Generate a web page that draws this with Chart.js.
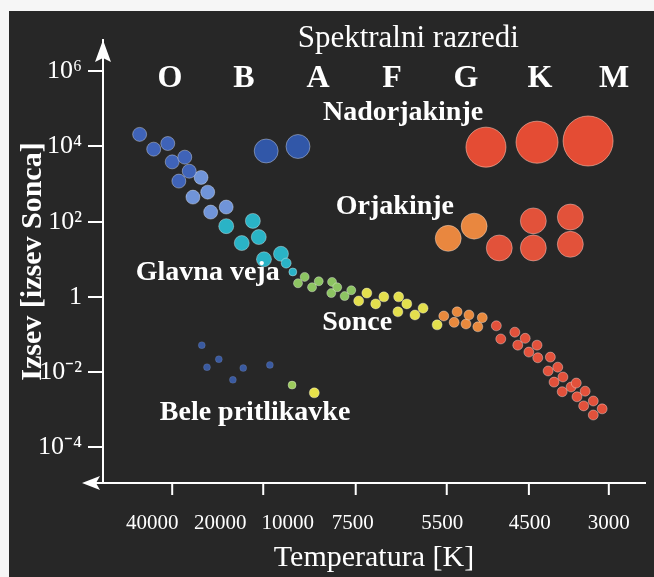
<!DOCTYPE html>
<html>
<head>
<meta charset="utf-8">
<script src="https://cdn.jsdelivr.net/npm/chart.js@4/dist/chart.umd.min.js"></script>
<style>
  body { margin: 0; background: #f6f6f6; }
  #wrap { position: absolute; left: 9px; top: 11px; width: 645px; height: 566px; background: #272727; }
</style>
</head>
<body>
<div id="wrap"><canvas id="hr" width="645" height="566"></canvas></div>
<script>
// axes: x = spectral class index (O=0 ... M=6), y = luminosity in solar units
const classLetters = ['O', 'B', 'A', 'F', 'G', 'K', 'M'];
const tempLabels = ['40000', '20000', '10000', '7500', '5500', '4500', '3000'];
const tempTickAt = [-0.24, 0.68, 1.59, 2.47, 3.68, 4.86, 5.93];
const tempMarkAt = [0.03, 1.26, 2.51, 3.74, 4.85, 5.93];
const lumTicks = [1e-4, 1e-2, 1, 1e2, 1e4, 1e6];
const lumLabels = ['10⁻⁴', '10⁻²', '1', '10²', '10⁴', '10⁶'];

// [class index, luminosity]
const superBlue = [[1.30, 7600], [1.73, 10000]];
const superRed = [[4.27, 9600], [4.96, 13000], [5.65, 14000]];
const giantOrange = [[3.76, 36], [4.11, 76]];
const giantRed = [[4.45, 20], [4.91, 105], [4.91, 20], [5.41, 133], [5.41, 25]];

const msBlue = [[-0.41, 21000], [-0.22, 8500], [-0.03, 12000], [0.03, 3900], [0.20, 5200], [0.26, 2200], [0.12, 1200]];
const msLightBlue = [[0.42, 1500], [0.31, 450], [0.51, 610], [0.55, 180], [0.76, 245]];
const msCyan = [[0.76, 76], [1.12, 105], [0.97, 27], [1.20, 39], [1.27, 10], [1.50, 14], [1.57, 7.9], [1.66, 4.6]];
const msGreen = [[1.73, 2.3], [1.82, 3.4], [1.92, 1.8], [2.01, 2.6], [2.18, 1.26], [2.19, 2.5], [2.26, 1.8], [2.36, 1.05], [2.45, 1.5]];
const msYellow = [[2.55, 0.78], [2.66, 1.26], [2.78, 0.65], [2.89, 1.0], [3.09, 1.0], [3.20, 0.65], [3.08, 0.40], [3.31, 0.33], [3.42, 0.50], [3.61, 0.18]];
const msOrange = [[3.70, 0.31], [3.84, 0.21], [3.88, 0.40], [4.00, 0.19], [4.04, 0.33], [4.16, 0.16], [4.22, 0.28]];
const msRed = [[4.41, 0.17], [4.47, 0.076], [4.66, 0.115], [4.70, 0.052], [4.80, 0.079], [4.85, 0.034],
  [4.96, 0.052], [4.97, 0.024], [5.14, 0.025], [5.11, 0.0107], [5.24, 0.0135], [5.19, 0.0054],
  [5.31, 0.0074], [5.30, 0.0030], [5.42, 0.0040], [5.49, 0.0051], [5.50, 0.0022], [5.61, 0.0031],
  [5.59, 0.00126], [5.72, 0.0017], [5.72, 0.00072], [5.84, 0.00105]];

const wdBlue = [[0.43, 0.052], [0.66, 0.022], [0.50, 0.0135], [0.99, 0.0128], [0.85, 0.0062], [1.35, 0.0155]];
const wdGreen = [[1.65, 0.0045]];
const wdYellow = [[1.95, 0.0028]];

const serif = "'Liberation Serif', 'Times New Roman', serif";

function ds(pts, color, r, rim) {
  return {
    data: pts.map(p => ({ x: p[0], y: p[1] })),
    backgroundColor: color,
    borderColor: rim || 'rgba(255,255,255,0.35)',
    borderWidth: 1,
    pointRadius: r,
    pointHoverRadius: r
  };
}

// axis arrows, tick marks, spectral letters and region names
const decor = {
  id: 'decor',
  afterDraw(chart) {
    const ctx = chart.ctx;
    const a = chart.chartArea;
    const xs = chart.scales.x, ys = chart.scales.y;
    ctx.save();
    ctx.strokeStyle = '#fff';
    ctx.fillStyle = '#fff';
    ctx.lineWidth = 2;

    // x axis extends left past the y axis, with arrow
    ctx.beginPath();
    ctx.moveTo(a.left, a.bottom);
    ctx.lineTo(a.left - 18, a.bottom);
    ctx.stroke();
    ctx.beginPath();
    ctx.moveTo(a.left - 21, a.bottom);
    ctx.lineTo(a.left - 3, a.bottom - 7);
    ctx.lineTo(a.left - 7, a.bottom);
    ctx.lineTo(a.left - 3, a.bottom + 7);
    ctx.closePath();
    ctx.fill();

    // y arrow
    ctx.beginPath();
    ctx.moveTo(a.left, a.top);
    ctx.lineTo(a.left + 8, a.top + 22);
    ctx.lineTo(a.left, a.top + 18);
    ctx.lineTo(a.left - 8, a.top + 22);
    ctx.closePath();
    ctx.fill();

    // temperature tick marks
    tempMarkAt.forEach(v => {
      const px = xs.getPixelForValue(v);
      ctx.beginPath();
      ctx.moveTo(px, a.bottom);
      ctx.lineTo(px, a.bottom + 12);
      ctx.stroke();
    });

    ctx.textAlign = 'center';
    ctx.textBaseline = 'middle';

    ctx.font = '31px ' + serif;
    ctx.fillText('Spektralni razredi', xs.getPixelForValue(3.22), ys.getPixelForValue(7.2e6));

    ctx.font = 'bold 32px ' + serif;
    classLetters.forEach((c, i) => {
      ctx.fillText(c, xs.getPixelForValue(i), ys.getPixelForValue(6.2e5));
    });

    const names = [
      ['Nadorjakinje', 3.15, 7.8e4],
      ['Orjakinje', 3.04, 245],
      ['Glavna veja', 0.51, 4.3],
      ['Sonce', 2.53, 0.2],
      ['Bele pritlikavke', 1.15, 8.1e-4]
    ];
    ctx.font = 'bold 28px ' + serif;
    names.forEach(n => {
      ctx.fillText(n[0], xs.getPixelForValue(n[1]), ys.getPixelForValue(n[2]));
    });
    ctx.restore();
  }
};

const config = {
  type: 'scatter',
  data: {
    datasets: [
      ds(wdBlue, '#3a5aa0', 3.5, 'rgba(255,255,255,0.1)'),
      ds(wdGreen, '#9ccb5c', 4),
      ds(wdYellow, '#e8e24a', 5),
      ds(msBlue, '#3f63b8', 7),
      ds(msLightBlue, '#7094d8', 7),
      ds(msCyan, '#2ab3c6', [7.5, 7.5, 7.5, 7.5, 7.5, 7.5, 5, 4]),
      ds(msGreen, '#8dc462', 4.5),
      ds(msYellow, '#e3df4d', 5),
      ds(msOrange, '#e8893d', 5),
      ds(msRed, '#e2513b', 5),
      ds(giantOrange, '#e9873f', 13),
      ds(giantRed, '#e2523a', 13),
      ds(superBlue, '#3157a8', 12),
      ds(superRed, '#e44c34', [20, 21, 25], 'rgba(255,190,170,0.6)')
    ]
  },
  options: {
    responsive: false,
    devicePixelRatio: 1,
    animation: false,
    layout: { autoPadding: false, padding: { left: 0, right: 9, top: 29, bottom: 0 } },
    plugins: {
      legend: { display: false },
      tooltip: { enabled: false }
    },
    scales: {
      x: {
        type: 'linear',
        min: -0.905,
        max: 6.419,
        afterFit: s => { s.height = 94; s.paddingLeft = 0; s.paddingRight = 0; },
        afterBuildTicks: s => { s.ticks = tempTickAt.map(v => ({ value: v })); },
        grid: { display: false },
        border: { display: true, color: '#fff', width: 2 },
        ticks: {
          color: '#fff',
          padding: 20,
          autoSkip: false,
          maxRotation: 0,
          font: { family: serif, size: 21 },
          callback: (v, i) => tempLabels[i]
        },
        title: {
          display: true,
          text: 'Temperatura [K]',
          color: '#fff',
          padding: { top: 0, bottom: 1 },
          font: { family: serif, size: 30 }
        }
      },
      y: {
        type: 'logarithmic',
        min: 1.12e-5,
        max: 6.8e6,
        afterFit: s => { s.width = 94; s.paddingTop = 0; s.paddingBottom = 0; },
        afterBuildTicks: s => { s.ticks = lumTicks.map(v => ({ value: v })); },
        grid: {
          display: true,
          drawOnChartArea: false,
          drawTicks: true,
          tickLength: 15,
          color: '#fff',
          lineWidth: 2
        },
        border: { display: true, color: '#fff', width: 2 },
        ticks: {
          color: '#fff',
          padding: 6,
          font: { family: serif, size: 26 },
          callback: (v, i) => lumLabels[i]
        },
        title: {
          display: true,
          text: 'Izsev [izsev Sonca]',
          color: '#fff',
          padding: { top: 6, bottom: 0 },
          font: { family: serif, size: 30, weight: 'bold' }
        }
      }
    }
  },
  plugins: [decor]
};

const hrChart = new Chart(document.getElementById('hr'), config);
</script>
</body>
</html>
